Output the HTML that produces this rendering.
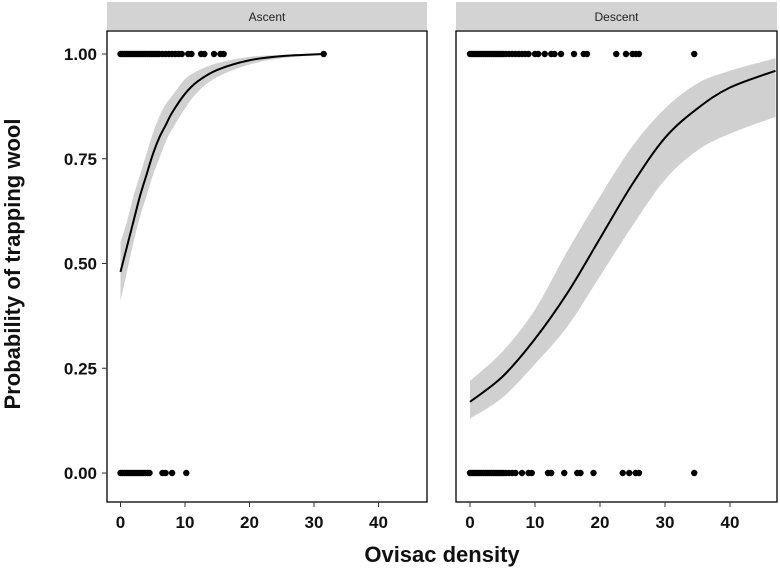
<!DOCTYPE html>
<html><head><meta charset="utf-8"><style>
body{margin:0;background:#fff;}
svg{display:block;font-family:"Liberation Sans",Arial,sans-serif;}
</style></head><body>
<svg id="chart" width="780" height="571" viewBox="0 0 780 571"></svg>
<script>
const yTicks=[0,0.25,0.5,0.75,1];
const yTickLabels=["0.00","0.25","0.50","0.75","1.00"];
const xTicks=[0,10,20,30,40];
const panelNames=["Ascent","Descent"];
const ascX=[0,1,2,3,4,5,6,7,8,10,12,15,20,25,31.5];
const ascP=[0.48,0.54,0.60,0.66,0.71,0.76,0.80,0.83,0.86,0.905,0.935,0.962,0.985,0.995,1.0];
const ascLo=[0.41,0.48,0.55,0.61,0.66,0.71,0.75,0.79,0.82,0.87,0.91,0.945,0.975,0.99,0.998];
const ascHi=[0.55,0.60,0.66,0.71,0.76,0.81,0.85,0.88,0.90,0.94,0.96,0.978,0.993,0.998,1.0];
const desX=[0,5,10,15,20,25,30,35,40,47];
const desP=[0.17,0.23,0.32,0.43,0.56,0.69,0.80,0.87,0.92,0.96];
const desLo=[0.13,0.18,0.26,0.35,0.47,0.59,0.70,0.77,0.81,0.85];
const desHi=[0.22,0.29,0.39,0.53,0.66,0.78,0.87,0.93,0.96,0.99];
const ascOnes=[0,0.3,0.6,0.9,1.2,1.5,1.8,2.1,2.4,2.7,3,3.3,3.6,3.9,4.2,4.5,4.8,5.1,5.4,5.7,6,6.5,7,7.5,8,8.5,9,9.5,10.5,11,12.5,13,14.5,15.5,16,31.5];
const ascZeros=[0,0.3,0.6,0.9,1.2,1.5,1.8,2.1,2.4,2.7,3,3.3,3.6,3.9,4.2,4.5,6.5,7,8,10.2];
const desOnes=[0,0.3,0.6,0.9,1.2,1.5,1.8,2.1,2.4,2.7,3,3.3,3.6,3.9,4.2,4.5,4.8,5.1,5.5,6,6.5,7,7.5,8,8.5,9,10,10.5,11.5,12.5,13,14,16,17.5,18,22.5,24,25,25.5,26,34.5];
const desZeros=[0,0.3,0.6,0.9,1.2,1.5,1.8,2.1,2.4,2.7,3,3.3,3.6,3.9,4.2,4.5,4.8,5.1,5.5,6,6.5,7,8,9,9.5,12,12.5,14.5,16.5,17,19,23.5,24.5,25.5,26,34.5];

const NS="http://www.w3.org/2000/svg";
const svg=document.getElementById("chart");
function mk(tag,attrs,parent){const e=document.createElementNS(NS,tag);for(const k in attrs)e.setAttribute(k,attrs[k]);(parent||svg).appendChild(e);return e;}
function smooth(pts,start){
  let d=(start?"M":"L")+pts[0][0]+","+pts[0][1];
  for(let i=0;i<pts.length-1;i++){
    const p0=pts[Math.max(0,i-1)],p1=pts[i],p2=pts[i+1],p3=pts[Math.min(pts.length-1,i+2)];
    const c1=[p1[0]+(p2[0]-p0[0])/6,p1[1]+(p2[1]-p0[1])/6];
    const c2=[p2[0]-(p3[0]-p1[0])/6,p2[1]-(p3[1]-p1[1])/6];
    d+="C"+c1[0]+","+c1[1]+" "+c2[0]+","+c2[1]+" "+p2[0]+","+p2[1];
  }
  return d;
}
const panels=[{x0:107,x1:427,zero:120.5,scale:6.45},{x0:456,x1:777,zero:470,scale:6.5}];
const yTop=31,yBot=502;
function Y(p){return 473-p*419;}
const panelData=[[ascX,ascP,ascLo,ascHi,ascOnes,ascZeros],[desX,desP,desLo,desHi,desOnes,desZeros]];
panels.forEach((pn,i)=>{
  const X=v=>pn.zero+v*pn.scale;
  const g=mk("g",{});
  
  
  const strip=mk("rect",{x:pn.x0,y:2,width:pn.x1-pn.x0,height:28,fill:"#d3d3d3"},g);
  
  
  const st=mk("text",{x:(pn.x0+pn.x1)/2,y:21,"text-anchor":"middle","font-size":12,fill:"#222"},g);
  st.textContent=panelNames[i];
  
  
  const cp=mk("clipPath",{id:"cp"+i},g);
  mk("rect",{x:pn.x0,y:yTop,width:pn.x1-pn.x0,height:yBot-yTop},cp);
  const [xs,ps,lo,hi,ones,zeros]=panelData[i];
  const hiPts=xs.map((x,j)=>[X(x),Y(hi[j])]);
  const loPts=xs.map((x,j)=>[X(x),Y(lo[j])]).reverse();
  const band=mk("path",{d:smooth(hiPts,true)+smooth(loPts,false)+"Z",fill:"#d0d0d0","clip-path":"url(#cp"+i+")"},g);
  
  
  const line=mk("path",{d:smooth(xs.map((x,j)=>[X(x),Y(ps[j])]),true),fill:"none",stroke:"#000","stroke-width":2,"clip-path":"url(#cp"+i+")"},g);
  
  
  [[ones,1],[zeros,0]].forEach(([arr,v])=>arr.forEach(x=>{
    const c=mk("circle",{cx:X(x),cy:Y(v),r:3.2,fill:"#000"},g);
    
    
  }));
  const fr=mk("rect",{x:pn.x0,y:yTop,width:pn.x1-pn.x0,height:yBot-yTop,fill:"none",stroke:"#000","stroke-width":1.3},g);
  
  
  xTicks.forEach(t=>{
    mk("line",{x1:X(t),x2:X(t),y1:yBot,y2:yBot+5,stroke:"#333"},g);
    const tx=mk("text",{x:X(t),y:528,"text-anchor":"middle","font-size":17,"font-weight":"bold",fill:"#111"},g);
    tx.textContent=t;
    
    
  });
});
yTicks.forEach((t,i)=>{
  mk("line",{x1:102,x2:107,y1:Y(t),y2:Y(t),stroke:"#333"});
  const tx=mk("text",{x:97,y:Y(t)+6,"text-anchor":"end","font-size":17,"font-weight":"bold",fill:"#111"});
  tx.textContent=yTickLabels[i];
  
  
});
const xt=mk("text",{x:442,y:562,"text-anchor":"middle","font-size":22,"font-weight":"bold",fill:"#111"});
xt.textContent="Ovisac density";


const yt=mk("text",{x:0,y:0,"text-anchor":"middle","font-size":22,"font-weight":"bold",fill:"#111",transform:"translate(20,264) rotate(-90)"});
yt.textContent="Probability of trapping wool";


</script>
</body></html>
